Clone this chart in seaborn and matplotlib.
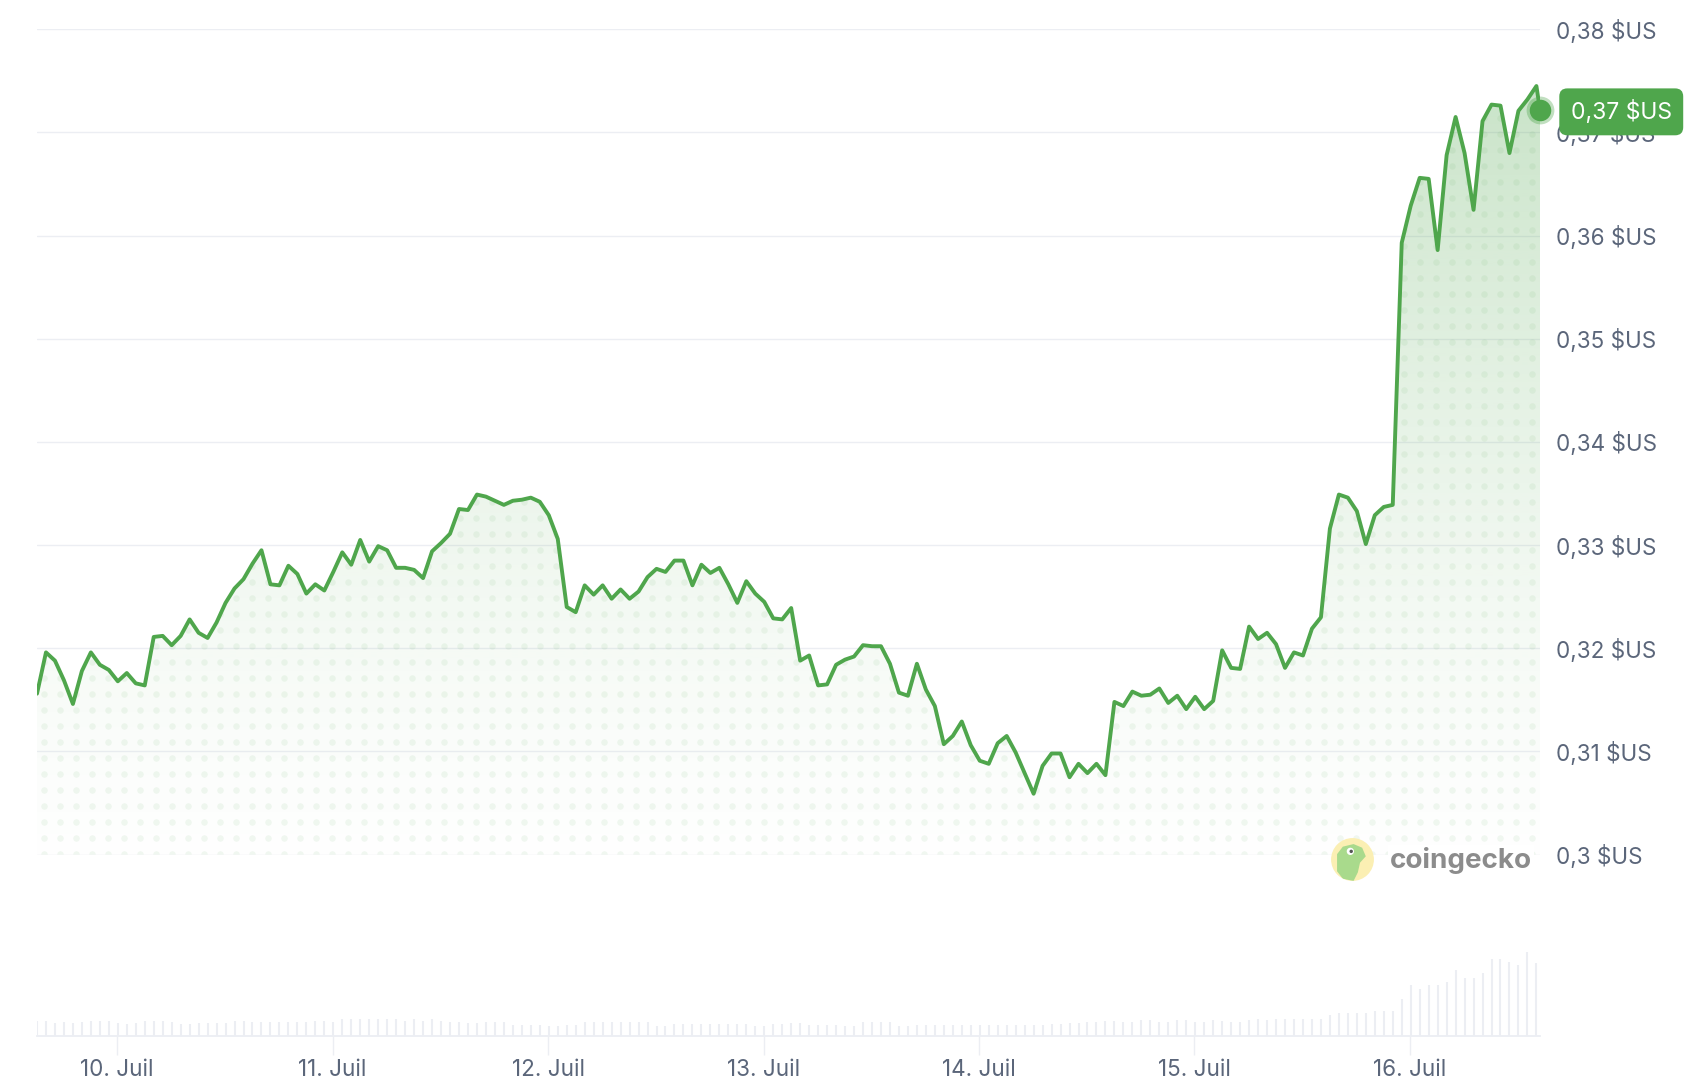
import numpy as np
import pandas as pd
import matplotlib
matplotlib.use("Agg")
import matplotlib.pyplot as plt
import matplotlib.dates as mdates
from matplotlib.patches import Circle, Polygon
import seaborn as sns

# ---------------- data ----------------
start_time = "2025-07-09 15:05"
price_hourly = [
    0.3156, 0.3196, 0.3188, 0.3169, 0.3146, 0.3178, 0.3196, 0.3184, 0.3179, 0.3168,
    0.3176, 0.3166, 0.3164, 0.3211, 0.3212, 0.3203, 0.3212, 0.3228, 0.3215, 0.3210,
    0.3225, 0.3244, 0.3258, 0.3267, 0.3282, 0.3295, 0.3262, 0.3261, 0.3280, 0.3272,
    0.3253, 0.3262, 0.3256, 0.3274, 0.3293, 0.3281, 0.3305, 0.3284, 0.3299, 0.3295,
    0.3278, 0.3278, 0.3276, 0.3268, 0.3294, 0.3302, 0.3311, 0.3335, 0.3334, 0.3349,
    0.3347, 0.3343, 0.3339, 0.3343, 0.3344, 0.3346, 0.3342, 0.3329, 0.3306, 0.3240,
    0.3235, 0.3261, 0.3252, 0.3261, 0.3248, 0.3257, 0.3248, 0.3255, 0.3269, 0.3277,
    0.3274, 0.3285, 0.3285, 0.3261, 0.3281, 0.3273, 0.3278, 0.3262, 0.3244, 0.3265,
    0.3253, 0.3245, 0.3229, 0.3228, 0.3239, 0.3188, 0.3193, 0.3164, 0.3165, 0.3184,
    0.3189, 0.3192, 0.3203, 0.3202, 0.3202, 0.3185, 0.3157, 0.3154, 0.3185, 0.3160,
    0.3144, 0.3107, 0.3115, 0.3129, 0.3106, 0.3091, 0.3088, 0.3108, 0.3115, 0.3099,
    0.3079, 0.3059, 0.3086, 0.3098, 0.3098, 0.3075, 0.3088, 0.3079, 0.3088, 0.3077,
    0.3148, 0.3144, 0.3158, 0.3154, 0.3155, 0.3161, 0.3147, 0.3154, 0.3141, 0.3153,
    0.3141, 0.3149, 0.3198, 0.3181, 0.3180, 0.3221, 0.3209, 0.3215, 0.3204, 0.3181,
    0.3196, 0.3193, 0.3219, 0.3230, 0.3316, 0.3349, 0.3346, 0.3333, 0.3301, 0.3329,
    0.3337, 0.3339, 0.3593, 0.3629, 0.3656, 0.3655, 0.3586, 0.3678, 0.3715, 0.3680,
    0.3625, 0.3711, 0.3727, 0.3726, 0.3680, 0.3721, 0.3732, 0.3745,
]
last_price = 0.3722
last_offset_hours = 167.4

volume_hourly = [
    15, 15, 13, 14, 13, 14, 15, 15, 15, 13, 12, 13, 15, 15, 15, 14, 12, 12, 13, 13, 13, 13, 15, 15,
    14, 14, 14, 14, 14, 14, 14, 15, 15, 14, 17, 17, 17, 17, 17, 17, 17, 15, 17, 15, 17, 15, 14, 14,
    13, 13, 14, 14, 14, 11, 11, 11, 11, 10, 10, 11, 11, 14, 14, 14, 14, 14, 14, 14, 14, 10, 10, 12,
    12, 12, 12, 12, 12, 12, 12, 12, 10, 10, 12, 12, 13, 13, 11, 11, 11, 11, 10, 10, 14, 14, 14, 14,
    10, 10, 11, 11, 11, 11, 11, 11, 11, 11, 11, 11, 11, 11, 11, 11, 11, 12, 12, 13, 13, 14, 14, 15,
    15, 14, 14, 16, 16, 14, 14, 16, 16, 14, 14, 16, 15, 14, 14, 16, 17, 16, 17, 17, 17,
    17, 17, 17, 21, 23, 23, 23, 23, 25, 25, 25, 37, 51, 47, 51, 51, 54, 66, 58, 58, 63, 77, 77, 74, 71, 84, 73,
]

day_ticks = ["2025-07-10", "2025-07-11", "2025-07-12", "2025-07-13",
             "2025-07-14", "2025-07-15", "2025-07-16"]
day_labels = ["10. Juil", "11. Juil", "12. Juil", "13. Juil",
              "14. Juil", "15. Juil", "16. Juil"]
y_ticks = [0.30, 0.31, 0.32, 0.33, 0.34, 0.35, 0.36, 0.37, 0.38]
y_min, y_max = 0.30, 0.38

# ---------------- style ----------------
GREEN = "#4fa64c"
GRID = "#eceef3"
TXT = "#5b667a"

sns.set_theme(style="white")
plt.rcParams["font.family"] = ["Inter", "DejaVu Sans"]

W, H = 1702, 1092
fig = plt.figure(figsize=(W / 100, H / 100), dpi=100)


def rect(l, t, r, b):
    return [l / W, 1 - b / H, (r - l) / W, (b - t) / H]


ax = fig.add_axes(rect(37, 29.3, 1540, 854.6))
axv = fig.add_axes(rect(37, 936, 1540, 1036))

times = pd.date_range(start_time, periods=len(price_hourly), freq="h")
t_end = pd.Timestamp(start_time) + pd.Timedelta(hours=last_offset_hours)
x_hourly = mdates.date2num(times)
x_end = mdates.date2num(t_end)
df = pd.DataFrame({"x": np.append(x_hourly, x_end),
                   "price": price_hourly + [last_price]})
x0, x1 = df["x"].iloc[0], x_end

# ---------------- price chart ----------------
ax.set_yticks(y_ticks)
ax.grid(axis="y", color=GRID, lw=1.0)
ax.grid(axis="x", visible=False)
ax.set_axisbelow(True)

# gradient fill under the line
poly = ax.fill_between(df["x"], df["price"], y_min, facecolor="none",
                       edgecolor="none", zorder=1)
clip_path = poly.get_paths()[0]
yy = np.linspace(y_min, y_max, 400)
alpha = 0.31 * np.clip((yy - 0.295) / 0.08, 0, None) ** 1.5
rgb = np.array(matplotlib.colors.to_rgb(GREEN))
img = np.zeros((400, 1, 4))
img[..., :3] = rgb
img[..., 3] = alpha[:, None]
im = ax.imshow(img, extent=[x0, x1, y_min, y_max], origin="lower",
               aspect="auto", zorder=1, interpolation="bilinear")
im.set_clip_path(clip_path, transform=ax.transData)

# dotted texture inside the fill
px_per_day = 1503 / ((x1 - x0))
dx = 16 / px_per_day
dy = 16 / 10320
gx, gy = np.meshgrid(np.arange(x0 + 7 / px_per_day, x1, dx),
                     np.arange(y_min + 1 / 10320, y_max, dy))
dots = ax.scatter(gx.ravel(), gy.ravel(), s=22, color=GREEN, alpha=0.08,
                  linewidths=0, zorder=1.5)
dots.set_clip_path(clip_path, transform=ax.transData)

sns.lineplot(data=df, x="x", y="price", ax=ax, color=GREEN, lw=2.8,
             estimator=None, sort=False, zorder=3,
             solid_joinstyle="round", solid_capstyle="round")

# end marker
ax.plot([x_end], [last_price], "o", ms=20, color=GREEN, alpha=0.35,
        mew=0, zorder=4, clip_on=False)
ax.plot([x_end], [last_price], "o", ms=15.5, color=GREEN, mew=0,
        zorder=5, clip_on=False)

ax.set_xlim(x0, x1)
ax.set_ylim(y_min, y_max)
ax.set_xlabel("")
ax.set_ylabel("")
ax.set_xticks([])
ax.yaxis.tick_right()
ax.set_yticklabels([f"{v:.2f}".rstrip("0").replace(".", ",") + " $US" for v in y_ticks])
ax.tick_params(axis="y", length=0, pad=11.5, labelsize=16.2, labelcolor=TXT)
for s in ax.spines.values():
    s.set_visible(False)

# current price badge
ax.annotate(f"{last_price:.2f}".replace(".", ",") + " $US",
            xy=(x_end, last_price), xytext=(58.5, -1.5),
            textcoords="offset points", ha="center", va="center",
            fontsize=16.5, color="white", zorder=10, annotation_clip=False,
            bbox=dict(boxstyle="round,pad=0.5,rounding_size=0.35",
                      fc=GREEN, ec="none"))

# ---------------- volume strip ----------------
axv.vlines(x_hourly, 0, volume_hourly, color=GRID, lw=1.5)
axv.set_xlim(x0, x1)
axv.set_ylim(0, 100)
axv.set_yticks([])
axv.set_xticks(mdates.date2num(pd.to_datetime(day_ticks)))
axv.set_xticklabels(day_labels)
axv.tick_params(axis="x", length=13.5, width=1.0, color=GRID, pad=3,
                labelsize=16.2, labelcolor=TXT, bottom=True)
for k, s in axv.spines.items():
    s.set_visible(k == "bottom")
axv.spines["bottom"].set_color(GRID)
axv.spines["bottom"].set_linewidth(1.3)
axv.set_facecolor("none")

# ---------------- coingecko watermark ----------------
fig.text(1390 / W, 1 - 860 / H, "coingecko", fontsize=20, fontweight="bold",
         color="#8c8c8c", ha="left", va="center",
         bbox=dict(fc="white", ec="none", pad=1.5))
axl = fig.add_axes(rect(1330, 837, 1375, 882))
axl.set_xlim(-1.05, 1.05)
axl.set_ylim(-1.05, 1.05)
axl.set_aspect("equal")
axl.axis("off")
axl.add_patch(Circle((0, 0), 1.0, fc="#fbefb3", ec="none"))
head = Polygon([(-0.72, -0.55), (-0.72, 0.25), (-0.45, 0.6), (0.05, 0.72),
                (0.45, 0.55), (0.62, 0.15), (0.35, -0.15), (0.25, -0.6),
                (0.05, -1.0), (-0.45, -0.9)], closed=True, fc="#a9da8c", ec="none")
axl.add_patch(head)
head.set_clip_path(Circle((0, 0), 1.0, transform=axl.transData))
axl.add_patch(Circle((-0.1, 0.38), 0.17, fc="white", ec="none"))
axl.add_patch(Circle((-0.06, 0.38), 0.08, fc="#555555", ec="none"))

fig.savefig("out.png", dpi=100, facecolor="white")
